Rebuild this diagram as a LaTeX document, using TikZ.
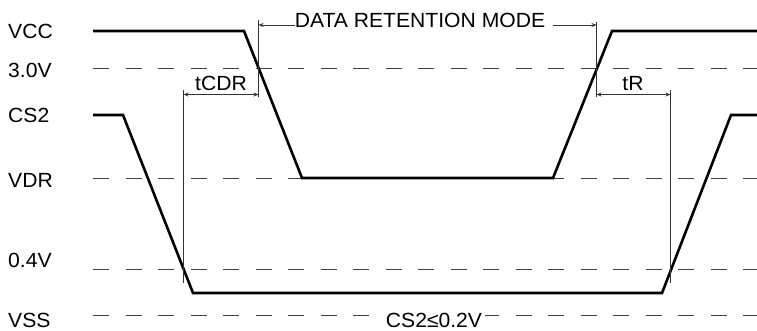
\documentclass[tikz,border=0pt]{standalone}
\usepackage{fontspec}
\setmainfont{Liberation Sans}
\usetikzlibrary{arrows.meta}
\begin{document}
\begin{tikzpicture}[x=1pt,y=-1pt,
  sig/.style={line width=2.6pt, line join=miter},
  refline/.style={black!75, line width=0.9pt, dash pattern=on 16pt off 16.5pt},
  vline/.style={black!80, line width=0.9pt},
  tip/.style={-{Stealth[length=5pt,width=4pt]}},
  dim/.style={vline, {Stealth[length=5pt,width=4pt]}-{Stealth[length=5pt,width=4pt]}},
  lbl/.style={font=\fontsize{20.5}{24}\selectfont, inner sep=0pt, anchor=base west, xscale=1.03},
  txt/.style={font=\fontsize{20.5}{24}\selectfont, inner sep=0pt, anchor=base, xscale=1.03}
]
\useasboundingbox (0,0) rectangle (757,331);

% level labels
\node[lbl] (lvcc) at (8,39) {VCC};
\node[lbl] (l30)  at (8,78) {3.0V};
\node[lbl] (lcs2) at (8,123) {CS2};
\node[lbl] (lvdr) at (8,187) {VDR};
\node[lbl] (l04)  at (8,267) {0.4V};
\node[lbl] (lvss) at (8,327) {VSS};

% reference levels
\draw[refline] (93,68) -- (757,68);
\draw[refline] (93,178) -- (757,178);
\draw[refline] (93,269) -- (757,269);
\draw[refline] (93,315) -- (757,315);

% signals
\draw[sig] (93,31) -- (244,31) -- (302,178) -- (553,178) -- (612,31) -- (757,31);
\draw[sig] (93,115) -- (123,115) -- (193,293) -- (662,293) -- (731,115) -- (757,115);

% timing markers
\coordinate (a1) at (258.5,20);  \coordinate (a2) at (258.5,97);
\coordinate (b1) at (183.5,90);  \coordinate (b2) at (183.5,283);
\coordinate (c1) at (596.5,22);  \coordinate (c2) at (596.5,97);
\coordinate (d1) at (670.5,90);  \coordinate (d2) at (670.5,283);
\draw[vline] (a1) -- (a2);
\draw[vline] (b1) -- (b2);
\draw[vline] (c1) -- (c2);
\draw[vline] (d1) -- (d2);

% tCDR and tR
\coordinate (tcl) at (183.5,94.5); \coordinate (tcr) at (258.5,94.5);
\coordinate (trl) at (596.5,94.5); \coordinate (trr) at (670.5,94.5);
\draw[dim] (tcl) -- (tcr);
\draw[dim] (trl) -- (trr);
\node[txt] (tcdr) at (221,91) {tCDR};
\node[txt] (tr) at (633,91) {tR};

% data retention mode
\node[txt] (drm) at (420,28) {DATA RETENTION MODE};
\coordinate (dl) at (258.5,25);
\coordinate (dr) at (596.5,25);
\draw[vline,tip] ([yshift=3pt]drm.base west) -- (dl);
\draw[vline,tip] ([xshift=8pt,yshift=3pt]drm.base east) -- (dr);

% CS2 condition
\node[txt, fill=white, inner xsep=3pt, inner ysep=2pt] (cond) at (434,327) {CS2≤0.2V};
\end{tikzpicture}
\end{document}
